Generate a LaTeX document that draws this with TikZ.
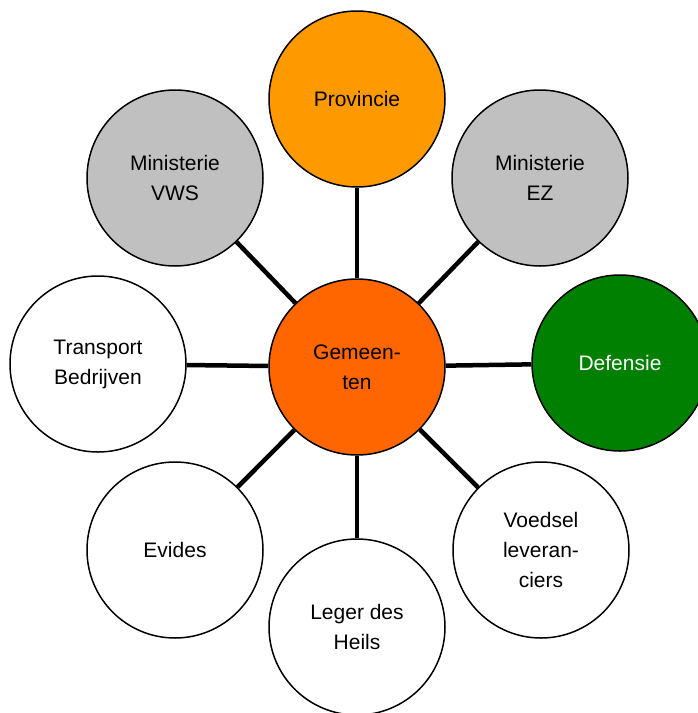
\documentclass[tikz,border=0pt]{standalone}
\usepackage{fontspec}
\setmainfont{Liberation Sans}
\definecolor{provorange}{HTML}{FF9900}
\definecolor{gemorange}{HTML}{FF6600}
\definecolor{mingrey}{HTML}{C0C0C0}
\definecolor{defgreen}{HTML}{008000}
\begin{document}
\begin{tikzpicture}[x=1pt,y=-1pt,
  actor/.style={circle,draw=black,line width=1.5pt,minimum size=176pt,inner sep=0pt,
    align=center,font=\fontsize{21}{30}\selectfont,fill=white,text=black},
  link/.style={line width=4.5pt,black}]
\useasboundingbox (0,0) rectangle (697,713);
\node[actor,fill=gemorange] (gem) at (357,367) {Gemeen-\\ten};
\node[actor,fill=provorange] (prov) at (357,99) {Provincie};
\node[actor,fill=mingrey] (ez) at (540,178) {Ministerie\\EZ};
\node[actor,fill=mingrey] (vws) at (175,178) {Ministerie\\VWS};
\node[actor] (trans) at (98,364) {Transport\\Bedrijven};
\node[actor,fill=defgreen,text=white] (def) at (620,363) {Defensie};
\node[actor] (evi) at (175,550) {Evides};
\node[actor] (leg) at (357,627) {Leger des\\Heils};
\node[actor] (voe) at (541,550) {Voedsel\\leveran-\\ciers};
\foreach \n in {prov,ez,vws,trans,def,evi,leg,voe}
  \draw[link] (gem) -- (\n);
\end{tikzpicture}
\end{document}
